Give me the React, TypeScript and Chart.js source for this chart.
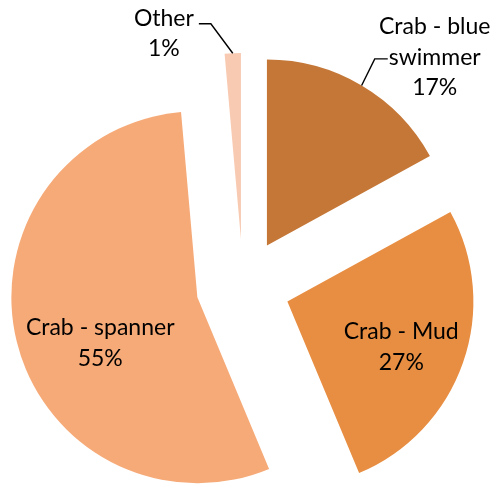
import React, { useEffect, useRef } from "react";
import { Chart, registerables } from "chart.js";

Chart.register(...registerables);

const categories = ["Crab - blue swimmer", "Crab - Mud", "Crab - spanner", "Other"];
const labelLines = [["Crab - blue", "swimmer"], ["Crab - Mud"], ["Crab - spanner"], ["Other"]];
const values = [17.0, 26.7, 54.9, 1.4];
const colors = ["#C47737", "#E88E42", "#F6AA78", "#F8CAB2"];

// label placement: distance from slice apex along bisector (fraction of radius) and pixel nudge
const labelDist = [1.35, 0.66, 0.56, 1.11];
const labelNudge = [[40, 27], [-2, 4], [4, 20], [-68, 0]];
// leader lines relative to label anchor: [start, elbow] or null
const leaders: (number[][] | null)[] = [[[-47, 2.5], [-60, 2.5]], null, null, [[35, -9], [47, -9]]];

const EXPLODE = 47;
const FONT_SIZE = 23;
const FONT = FONT_SIZE + "px Lato";
const LINE_H = 30.5;

// Explode each slice outward along its bisector (moves each arc element's own centre)
const explodePlugin = {
  id: "explode",
  afterDatasetsUpdate(chart: any) {
    const meta = chart.getDatasetMeta(0);
    meta.data.forEach((arc: any) => {
      const mid = (arc.startAngle + arc.endAngle) / 2;
      arc.x = arc.x + Math.cos(mid) * EXPLODE;
      arc.y = arc.y + Math.sin(mid) * EXPLODE;
    });
  },
};

const labelPlugin = {
  id: "sliceLabels",
  afterDatasetsDraw(chart: any) {
    const ctx = chart.ctx;
    const meta = chart.getDatasetMeta(0);
    const total = values.reduce((a, b) => a + b, 0);
    ctx.save();
    ctx.font = FONT;
    ctx.fillStyle = "#000";
    ctx.textAlign = "center";
    ctx.textBaseline = "alphabetic";
    meta.data.forEach((arc: any, i: number) => {
      const { x, y, startAngle, endAngle, outerRadius } = arc;
      const mid = (startAngle + endAngle) / 2;
      const dx = Math.cos(mid);
      const dy = Math.sin(mid);
      const d = outerRadius * labelDist[i];
      const lx = x + dx * d + labelNudge[i][0];
      const ly = y + dy * d + labelNudge[i][1];
      const lines = [...labelLines[i], Math.round((values[i] / total) * 100) + "%"];
      const top = ly - ((lines.length - 1) * LINE_H) / 2;
      const capHalf = FONT_SIZE * 0.36;
      lines.forEach((t, k) => ctx.fillText(t, lx, top + k * LINE_H + capHalf));
      const ld = leaders[i];
      if (ld) {
        const ex = x + dx * outerRadius;
        const ey = y + dy * outerRadius;
        ctx.beginPath();
        ctx.strokeStyle = "#000";
        ctx.lineWidth = 1.4;
        ctx.moveTo(lx + ld[0][0], ly + ld[0][1]);
        ctx.lineTo(lx + ld[1][0], ly + ld[1][1]);
        ctx.lineTo(ex, ey);
        ctx.stroke();
      }
    });
    ctx.restore();
  },
};

export default function App() {
  const ref = useRef<HTMLCanvasElement>(null);
  useEffect(() => {
    if (!ref.current) return;
    const chart = new Chart(ref.current, {
      type: "pie",
      data: {
        labels: categories,
        datasets: [
          {
            data: values,
            backgroundColor: colors,
            borderWidth: 0,
            clip: false,
          } as any,
        ],
      },
      options: {
        animation: false,
        responsive: true,
        maintainAspectRatio: false,
        radius: 186,
        layout: { padding: { top: 86, left: 0, right: 6, bottom: 0 } },
        plugins: { legend: { display: false }, tooltip: { enabled: false } },
      } as any,
      plugins: [explodePlugin, labelPlugin],
    });
    return () => chart.destroy();
  }, []);
  return (
    <div style={{ position: "fixed", left: 0, top: 0, width: 492, height: 486, background: "#fff" }}>
      <canvas ref={ref} />
    </div>
  );
}
